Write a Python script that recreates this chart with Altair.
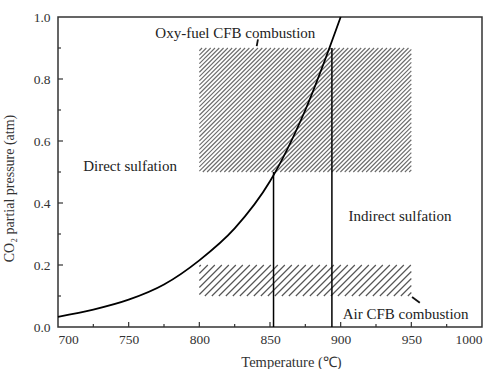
import altair as alt
import pandas as pd

# ---- data ----
temp = [700, 725, 750, 775, 800, 825, 850, 875, 900]
pco2 = [0.033, 0.056, 0.088, 0.137, 0.215, 0.318, 0.47, 0.70, 1.0]

vline_t = [852.5, 893.8]
vline_p0 = [0.0, 0.0]
vline_p = [0.5, 0.9]

box_x0 = [800, 800]
box_x1 = [950, 950]
box_y0 = [0.5, 0.1]
box_y1 = [0.9, 0.2]
hatch_gap = [4.3, 7.0]

y_major = [0.0, 0.2, 0.4, 0.6, 0.8, 1.0]
y_minor = [0.1, 0.3, 0.5, 0.7, 0.9]
x_major = [700, 750, 800, 850, 900, 950, 1000]
x_minor = [725, 775, 825, 875, 925, 975]

labels = ["Oxy-fuel CFB combustion", "Direct sulfation", "Indirect sulfation", "Air CFB combustion"]
label_t = [825.5, 751, 942, 946]
label_p = [0.948, 0.52, 0.358, 0.042]

arrow_t = [841.5, 950.5]
arrow_p = [0.928, 0.097]
arrow_t2 = [840.6, 956.0]
arrow_p2 = [0.906, 0.078]

W, H = 424, 310
XMIN, XMAX = 700, 1000
FONT = "Liberation Serif"
XTITLE = "Temperature (\u2103)"
YTITLE = "CO\u2082 partial pressure (atm)"

xs = alt.Scale(domain=[XMIN, XMAX], nice=False, zero=False)
ys = alt.Scale(domain=[0, 1], nice=False)

xaxis = alt.Axis(values=x_major, format="d", domain=False, grid=False,
                 tickSize=0, labelPadding=5, labelFont=FONT, labelFontSize=13.5,
                 labelColor="#333", titleFont=FONT, titleFontSize=14.5,
                 titleFontWeight="normal", titleColor="#333",
                 titleX=233, titleY=35, titleBaseline="middle")
yaxis = alt.Axis(values=y_major, format=".1f", domain=False, grid=False,
                 tickSize=0, labelPadding=8, labelFont=FONT, labelFontSize=13.5,
                 labelColor="#333", titleFont=FONT, titleFontSize=14,
                 titleFontWeight="normal", titleColor="#333",
                 titleX=-49, titleY=171, titleBaseline="middle")

def X(f):
    return alt.X(f, scale=xs, axis=xaxis, title=XTITLE)

def Y(f):
    return alt.Y(f, scale=ys, axis=yaxis, title=YTITLE)

# hatch segments derived from the box extents
def hatch(i):
    segs = []
    u0 = (box_x0[i] - XMIN) * W / (XMAX - XMIN)
    u1 = (box_x1[i] - XMIN) * W / (XMAX - XMIN)
    v0 = box_y0[i] * H
    v1 = box_y1[i] * H
    d = hatch_gap[i]
    c = v0 - u1 + d / 2
    while c < v1 - u0:
        ua = max(u0, v0 - c)
        ub = min(u1, v1 - c)
        if ub > ua:
            segs.append(dict(
                x=XMIN + ua * (XMAX - XMIN) / W, y=(ua + c) / H,
                x2=XMIN + ub * (XMAX - XMIN) / W, y2=(ub + c) / H))
        c += d
    return pd.DataFrame(segs)

h_top = alt.Chart(hatch(0)).mark_rule(color="#6a6a6a", strokeWidth=1.1).encode(
    x=X("x:Q"), y=Y("y:Q"), x2="x2:Q", y2="y2:Q")
h_bot = alt.Chart(hatch(1)).mark_rule(color="#555555", strokeWidth=1.2).encode(
    x=X("x:Q"), y=Y("y:Q"), x2="x2:Q", y2="y2:Q")

curve = alt.Chart(pd.DataFrame({"t": temp, "p": pco2})).mark_line(
    color="black", strokeWidth=1.8, interpolate="monotone").encode(
    x=X("t:Q"), y=Y("p:Q"))

vlines = alt.Chart(pd.DataFrame({"t": vline_t, "p0": vline_p0, "p": vline_p})).mark_rule(
    color="black", strokeWidth=1.5).encode(
    x=X("t:Q"), y=Y("p0:Q"), y2="p:Q")

yt_major = alt.Chart(pd.DataFrame({"v": y_major[1:-1]})).mark_rule(color="#333", strokeWidth=1.2).encode(
    y=Y("v:Q"), x=alt.value(0), x2=alt.value(5))
yt_minor = alt.Chart(pd.DataFrame({"v": y_minor})).mark_rule(color="#333", strokeWidth=1.2).encode(
    y=Y("v:Q"), x=alt.value(0), x2=alt.value(3))
xt_major = alt.Chart(pd.DataFrame({"v": x_major[1:-1]})).mark_rule(color="#333", strokeWidth=1.2).encode(
    x=X("v:Q"), y=alt.value(H), y2=alt.value(H - 5))
xt_minor = alt.Chart(pd.DataFrame({"v": x_minor})).mark_rule(color="#333", strokeWidth=1.2).encode(
    x=X("v:Q"), y=alt.value(H), y2=alt.value(H - 3))

texts = alt.Chart(pd.DataFrame({"l": labels, "t": label_t, "p": label_p})).mark_text(
    font=FONT, fontSize=15, color="#222", align="center", baseline="middle").encode(
    x=X("t:Q"), y=Y("p:Q"), text="l:N")

arrows = alt.Chart(pd.DataFrame({"t": arrow_t, "p": arrow_p, "t2": arrow_t2, "p2": arrow_p2})).mark_rule(
    color="#111", strokeWidth=1.8).encode(
    x=X("t:Q"), y=Y("p:Q"), x2="t2:Q", y2="p2:Q")

chart = alt.layer(h_top, h_bot, curve, vlines, yt_major, yt_minor, xt_major, xt_minor, texts, arrows).properties(
    width=W, height=H,
    autosize=alt.AutoSizeParams(type="none"),
    padding={"left": 58, "top": 17, "right": 13, "bottom": 42},
    background="white",
).configure_view(stroke="#333", strokeWidth=1.5)

chart.save("out.html", embed_options={"renderer": "svg", "actions": False})
